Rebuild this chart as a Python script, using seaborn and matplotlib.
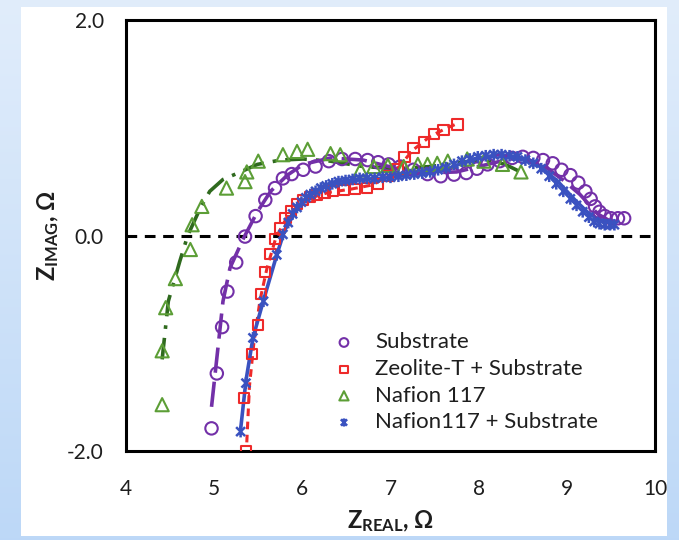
import numpy as np
import matplotlib
matplotlib.use("Agg")
import matplotlib.pyplot as plt
from matplotlib.path import Path
from matplotlib.patches import Rectangle
import seaborn as sns

# ---- impedance data (Nyquist plot) ----
sub_re = [4.97, 5.03, 5.09, 5.15, 5.25, 5.35, 5.47, 5.58, 5.69, 5.78, 5.88, 6.01, 6.15, 6.30,
          6.45, 6.60, 6.74, 6.86, 6.98, 7.11, 7.26, 7.42, 7.57, 7.72, 7.86, 7.98, 8.10, 8.24,
          8.38, 8.50, 8.62, 8.73, 8.84, 8.94, 9.04, 9.13, 9.21, 9.27, 9.32, 9.37, 9.43, 9.50,
          9.58, 9.65]
sub_im = [-1.79, -1.28, -0.85, -0.52, -0.25, -0.01, 0.18, 0.33, 0.44, 0.53, 0.57, 0.61, 0.64, 0.69,
          0.71, 0.71, 0.70, 0.68, 0.66, 0.64, 0.61, 0.57, 0.55, 0.565, 0.58, 0.62, 0.66, 0.69,
          0.72, 0.73, 0.72, 0.70, 0.67, 0.61, 0.56, 0.49, 0.41, 0.34, 0.27, 0.22, 0.18, 0.16,
          0.16, 0.16]
sub_fit_re = [4.97, 5.03, 5.10, 5.18, 5.33, 5.49, 5.64, 5.83, 6.01, 6.32, 6.69, 7.08, 7.40, 7.75,
              8.05, 8.35, 8.55, 8.75, 8.95, 9.15, 9.35, 9.50, 9.62]
sub_fit_im = [-1.59, -1.14, -0.61, -0.30, -0.03, 0.22, 0.41, 0.56, 0.66, 0.72, 0.70, 0.62, 0.58, 0.59,
              0.65, 0.71, 0.71, 0.64, 0.52, 0.38, 0.20, 0.13, 0.12]

zeo_re = [5.36, 5.34, 5.43, 5.50, 5.53, 5.58, 5.64, 5.69, 5.75, 5.81, 5.87, 5.94, 6.01, 6.09,
          6.17, 6.25, 6.35, 6.47, 6.60, 6.73, 6.86, 6.97, 7.08, 7.16, 7.26, 7.38, 7.49, 7.60, 7.76]
zeo_im = [-2.00, -1.51, -1.10, -0.83, -0.54, -0.34, -0.17, -0.03, 0.07, 0.16, 0.23, 0.29, 0.33, 0.36,
          0.38, 0.40, 0.41, 0.42, 0.43, 0.44, 0.48, 0.55, 0.62, 0.73, 0.81, 0.87, 0.94, 0.98, 1.03]
zeo_fit_re = [5.37, 5.40, 5.45, 5.52, 5.60, 5.70, 5.82, 5.95, 6.10, 6.30, 6.55, 6.80, 6.97, 7.10,
              7.25, 7.45, 7.62, 7.76]
zeo_fit_im = [-1.92, -1.40, -1.00, -0.60, -0.30, -0.02, 0.16, 0.28, 0.35, 0.40, 0.43, 0.47, 0.55, 0.64,
              0.79, 0.92, 0.99, 1.04]

naf_re = [4.41, 4.41, 4.45, 4.56, 4.73, 4.75, 4.86, 5.14, 5.35, 5.37, 5.50, 5.78, 5.94, 6.06,
          6.32, 6.43, 6.66, 6.81, 6.97, 7.15, 7.31, 7.42, 7.53, 7.65, 7.87, 8.06, 8.27, 8.48]
naf_im = [-1.57, -1.07, -0.67, -0.40, -0.13, 0.10, 0.27, 0.44, 0.50, 0.59, 0.69, 0.75, 0.78, 0.80,
          0.76, 0.75, 0.61, 0.64, 0.65, 0.64, 0.66, 0.66, 0.67, 0.69, 0.71, 0.69, 0.66, 0.59]
naf_fit_re = [4.41, 4.48, 4.61, 4.70, 4.84, 4.95, 5.10, 5.30, 5.49, 5.75, 6.01, 6.32, 6.69, 7.08,
              7.45, 7.80, 8.10, 8.30, 8.45]
naf_fit_im = [-1.15, -0.61, -0.24, 0.00, 0.25, 0.41, 0.52, 0.59, 0.66, 0.70, 0.71, 0.69, 0.64, 0.62,
              0.64, 0.68, 0.70, 0.66, 0.60]

ns_re = [5.30, 5.36, 5.44, 5.56, 5.71, 5.78, 5.84, 5.89, 5.94, 5.99, 6.04, 6.09, 6.15, 6.21,
         6.27, 6.34, 6.41, 6.49, 6.57, 6.65, 6.73, 6.82, 6.91, 7.00, 7.09, 7.18, 7.27, 7.36,
         7.45, 7.54, 7.63, 7.72, 7.81, 7.90, 7.99, 8.08, 8.17, 8.26, 8.35, 8.44, 8.53, 8.62,
         8.71, 8.80, 8.88, 8.96, 9.04, 9.11, 9.18, 9.25, 9.31, 9.37, 9.43, 9.49, 9.54]
ns_im = [-1.82, -1.37, -0.95, -0.61, -0.18, 0.01, 0.12, 0.20, 0.26, 0.31, 0.35, 0.38, 0.41, 0.44,
         0.46, 0.48, 0.50, 0.51, 0.52, 0.53, 0.53, 0.53, 0.54, 0.54, 0.55, 0.56, 0.57, 0.58,
         0.59, 0.61, 0.63, 0.66, 0.69, 0.71, 0.73, 0.74, 0.75, 0.75, 0.74, 0.73, 0.70, 0.67,
         0.62, 0.55, 0.48, 0.41, 0.34, 0.28, 0.22, 0.17, 0.13, 0.11, 0.10, 0.10, 0.10]
ns_fit_re = [5.30, 5.36, 5.44, 5.56, 5.71, 5.80, 5.94, 6.09, 6.24, 6.39, 6.62, 6.89, 7.11, 7.38,
             7.65, 7.94, 8.22, 8.44, 8.67, 8.90, 9.08, 9.23, 9.35, 9.50]
ns_fit_im = [-1.80, -1.35, -0.95, -0.60, -0.18, 0.05, 0.25, 0.37, 0.46, 0.50, 0.52, 0.53, 0.55, 0.58,
             0.62, 0.71, 0.75, 0.73, 0.66, 0.50, 0.34, 0.22, 0.15, 0.13]

labels = ["Substrate", "Zeolite-T + Substrate", "Nafion 117", "Nafion117 + Substrate"]
x_ticks = [4, 5, 6, 7, 8, 9, 10]
y_ticks = [-2.0, 0.0, 2.0]

# ---- style ----
sns.set_theme(style="white")
plt.rcParams["font.family"] = ["Lato", "DejaVu Sans"]
plt.rcParams["mathtext.fontset"] = "custom"
plt.rcParams["mathtext.rm"] = "Lato"
plt.rcParams["mathtext.bf"] = "Lato:bold"

PURPLE = "#7330a8"
RED = "#ee2a2a"
GREEN = "#5c9e36"
DKGREEN = "#2f6a1e"
BLUE = "#3a52c0"
TEXT = "#1e1e1e"

fig = plt.figure(figsize=(6.79, 5.40), dpi=100)

# light blue gradient backdrop with a white panel
bg = fig.add_axes([0, 0, 1, 1], zorder=-10)
grad = np.linspace(0, 1, 256).reshape(-1, 1)
top_c = np.array([0.882, 0.929, 0.984])
bot_c = np.array([0.741, 0.847, 0.969])
img = top_c[None, None, :] * (1 - grad[:, :, None]) + bot_c[None, None, :] * grad[:, :, None]
bg.imshow(img, aspect="auto", extent=[0, 1, 0, 1], origin="upper")
bg.add_patch(Rectangle((21 / 679, 1 - 536 / 540), (667 - 21) / 679, (536 - 7) / 540,
                       facecolor="white", edgecolor="none"))
bg.set_xlim(0, 1)
bg.set_ylim(0, 1)
bg.axis("off")

ax = fig.add_axes([126 / 679, 1 - 451 / 540, (655 - 126) / 679, (451 - 20) / 540])
ax.set_facecolor("white")

# asterisk-like marker: an x crossed by a vertical stroke
star_path = Path(
    [(-1, -1), (1, 1), (-1, 1), (1, -1), (0, -1.3), (0, 1.3)],
    [Path.MOVETO, Path.LINETO, Path.MOVETO, Path.LINETO, Path.MOVETO, Path.LINETO],
)

# fitted curves
sns.lineplot(x=naf_fit_re, y=naf_fit_im, sort=False, estimator=None, ax=ax,
             color=DKGREEN, lw=2.6, zorder=2)
ax.lines[-1].set_dashes([6, 2.5, 1, 2.5])
sns.lineplot(x=sub_fit_re, y=sub_fit_im, sort=False, estimator=None, ax=ax,
             color=PURPLE, lw=2.6, zorder=2)
ax.lines[-1].set_dashes([7, 2.5])
sns.lineplot(x=zeo_fit_re, y=zeo_fit_im, sort=False, estimator=None, ax=ax,
             color=RED, lw=2.2, zorder=2)
ax.lines[-1].set_dashes([2.5, 1.8])
sns.lineplot(x=ns_fit_re, y=ns_fit_im, sort=False, estimator=None, ax=ax,
             color=BLUE, lw=2.6, zorder=2.5)

# measured points
sns.scatterplot(x=sub_re, y=sub_im, ax=ax, marker="o", s=80, facecolor="none",
                edgecolor=PURPLE, linewidth=1.5, label=labels[0], zorder=3)
sns.scatterplot(x=zeo_re, y=zeo_im, ax=ax, marker="s", s=55, facecolor="none",
                edgecolor=RED, linewidth=1.5, label=labels[1], zorder=3)
sns.scatterplot(x=naf_re, y=naf_im, ax=ax, marker="^", s=90, facecolor="none",
                edgecolor=GREEN, linewidth=1.5, label=labels[2], zorder=3)
sns.scatterplot(x=ns_re, y=ns_im, ax=ax, marker=star_path, s=70, facecolor="none",
                edgecolor=BLUE, linewidth=1.8, label=labels[3], zorder=3)

ax.axhline(0, color="black", lw=2.2, dashes=(3.5, 2.5), zorder=1)

ax.set_xlim(4, 10)
ax.set_ylim(-2, 2)
ax.set_xticks(x_ticks)
ax.set_xticklabels([str(t) for t in x_ticks])
ax.set_yticks(y_ticks)
ax.set_yticklabels([f"{t:.1f}" for t in y_ticks])
ax.tick_params(axis="both", direction="inout", length=14, width=2, color="black",
               labelsize=15, labelcolor=TEXT)
ax.tick_params(axis="y", pad=9)
ax.tick_params(axis="x", pad=13)
for sp in ax.spines.values():
    sp.set_visible(True)
    sp.set_color("black")
    sp.set_linewidth(2.2)

ax.set_xlabel(r"$\mathbf{Z_{REAL}}$, Ω", fontsize=17, fontweight="bold", labelpad=7, color=TEXT)
ax.set_ylabel(r"$\mathbf{Z_{IMAG}}$, Ω", fontsize=17, fontweight="bold", labelpad=4, color=TEXT)

leg = ax.legend(loc="upper left", bbox_to_anchor=(0.37, 0.296), frameon=False,
                fontsize=16, markerscale=0.7, handletextpad=0.8, labelspacing=0.3,
                borderaxespad=0, handlelength=1.2)
for t in leg.get_texts():
    t.set_color(TEXT)

fig.savefig("out.png", dpi=100)
